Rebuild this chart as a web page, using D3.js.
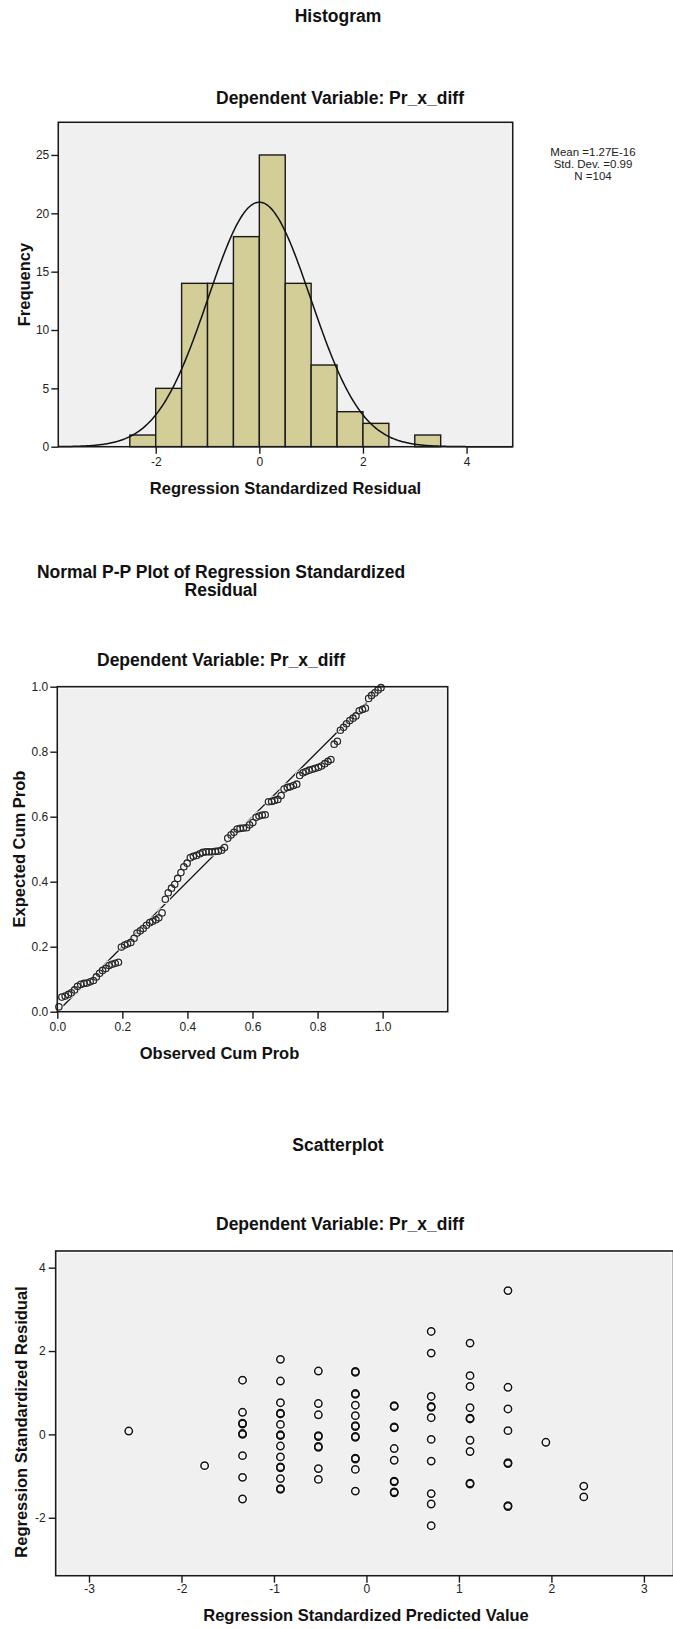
<!DOCTYPE html>
<html><head><meta charset="utf-8">
<script src="https://cdn.jsdelivr.net/npm/d3@7"></script>
<style>
html,body{margin:0;padding:0;background:#fff;}
svg{display:block;}
text{font-family:"Liberation Sans",Arial,sans-serif;}
</style></head><body>
<svg id="chart" width="673" height="1629"></svg>
<script>
// ---------- Histogram of regression standardized residuals ----------
const binLower  = [-2.5, -2.0, -1.5, -1.0, -0.5, 0.0, 0.5, 1.0, 1.5, 2.0, 2.5, 3.0];
const binWidth  = 0.5;
const frequency = [1, 5, 14, 14, 18, 25, 14, 7, 3, 2, 0, 1];
const residualMean = 1.27e-16;
const residualSd   = 0.99;
const residualN    = 104;
const statLabels   = ["Mean =1.27E-16", "Std. Dev. =0.99", "N =104"];
const histXTicks   = [-2, 0, 2, 4];
const histYTicks   = [0, 5, 10, 15, 20, 25];

// ---------- Normal P-P plot ----------
const observedCumProb = [
  0.005,0.014,0.024,0.034,0.043,0.053,0.062,0.072,0.082,0.091,
  0.101,0.111,0.120,0.130,0.139,0.149,0.159,0.168,0.178,0.188,
  0.197,0.207,0.216,0.226,0.236,0.245,0.255,0.264,0.274,0.284,
  0.293,0.303,0.312,0.322,0.332,0.341,0.351,0.361,0.370,0.380,
  0.389,0.399,0.409,0.418,0.428,0.438,0.447,0.457,0.466,0.476,
  0.486,0.495,0.505,0.514,0.524,0.534,0.543,0.553,0.562,0.572,
  0.582,0.591,0.601,0.611,0.620,0.630,0.639,0.649,0.659,0.668,
  0.678,0.688,0.697,0.707,0.716,0.726,0.736,0.745,0.755,0.764,
  0.774,0.784,0.793,0.803,0.812,0.822,0.832,0.841,0.851,0.861,
  0.870,0.880,0.889,0.899,0.909,0.918,0.928,0.938,0.947,0.957,
  0.966,0.976,0.986,0.995];
const expectedCumProb = [
  0.015,0.045,0.048,0.053,0.058,0.067,0.078,0.084,0.087,0.088,
  0.092,0.096,0.107,0.118,0.127,0.133,0.142,0.146,0.149,0.152,
  0.199,0.205,0.209,0.213,0.226,0.242,0.249,0.256,0.266,0.274,
  0.278,0.283,0.289,0.304,0.346,0.366,0.380,0.392,0.410,0.428,
  0.446,0.457,0.474,0.478,0.481,0.486,0.490,0.492,0.492,0.492,
  0.493,0.494,0.497,0.505,0.534,0.544,0.552,0.562,0.564,0.565,
  0.566,0.575,0.582,0.598,0.602,0.605,0.606,0.646,0.647,0.650,
  0.653,0.665,0.685,0.690,0.692,0.696,0.700,0.727,0.735,0.739,
  0.743,0.746,0.749,0.752,0.756,0.763,0.770,0.776,0.823,0.832,
  0.866,0.875,0.886,0.896,0.903,0.910,0.926,0.930,0.934,0.964,
  0.973,0.981,0.990,0.997];
const ppTicks = [0, 0.2, 0.4, 0.6, 0.8, 1.0];

// ---------- Residuals vs predicted values ----------
const predictedLevels = [-2.57, -1.75, -1.34, -0.93, -0.52, -0.12, 0.30, 0.70, 1.12, 1.53, 1.94, 2.35];
const residualsAtLevel = [
  [0.08],
  [-0.75],
  [1.30, 0.53, 0.27, 0.25, 0.02, 0.00, -0.51, -1.03, -1.55],
  [1.80, 1.28, 0.76, 0.51, 0.49, 0.24, -0.01, -0.03, -0.28, -0.54, -0.78, -0.80, -1.06, -1.30, -1.32],
  [1.52, 0.74, 0.47, -0.03, -0.05, -0.29, -0.31, -0.82, -1.08],
  [1.51, 1.49, 0.98, 0.96, 0.70, 0.45, 0.21, 0.19, -0.05, -0.07, -0.57, -0.59, -0.84, -1.36],
  [0.69, 0.67, 0.18, 0.16, -0.34, -0.62, -1.12, -1.14, -1.38, -1.40],
  [2.47, 1.95, 0.91, 0.67, 0.65, 0.40, -0.12, -0.64, -1.42, -1.67, -2.19],
  [2.19, 1.41, 1.15, 0.64, 0.39, 0.37, -0.14, -0.41, -1.17, -1.19],
  [3.45, 1.13, 0.61, 0.09, -0.68, -0.70, -1.71, -1.73],
  [-0.19],
  [-1.24, -1.50]
];
const scatterXTicks = [-3, -2, -1, 0, 1, 2, 3];
const scatterYTicks = [-2, 0, 2, 4];

// ---------- drawing ----------
const svg = d3.select("#chart");
svg.append("rect").attr("width", 673).attr("height", 1629).attr("fill", "#fff");

const INK = "#1a1a1a";

function title(txt, x, y, size) {
  svg.append("text").attr("x", x).attr("y", y).attr("text-anchor", "middle")
    .attr("font-size", size).attr("font-weight", "bold").attr("fill", "#111").text(txt);
}

function plotArea(x, y) {
  const [x0, x1] = x.range(), [yb, yt] = y.range();
  svg.append("rect").attr("x", x0).attr("y", yt).attr("width", x1 - x0).attr("height", yb - yt).attr("fill", "#fff");
  svg.append("rect").attr("x", x0 + 2).attr("y", yt + 2).attr("width", x1 - x0 - 4).attr("height", yb - yt - 4).attr("fill", "#f0f0f0");
}

function frame(x, y) {
  const [x0, x1] = x.range(), [yb, yt] = y.range();
  svg.append("rect").attr("x", x0).attr("y", yt).attr("width", x1 - x0).attr("height", yb - yt)
    .attr("fill", "none").attr("stroke", INK).attr("stroke-width", 1.6);
}

function axes(x, y, xTicks, yTicks, fmt, xPad, yPad) {
  const gx = svg.append("g").attr("transform", `translate(0,${y.range()[0]})`)
    .call(d3.axisBottom(x).tickValues(xTicks).tickSize(7).tickPadding(xPad).tickFormat(fmt));
  const gy = svg.append("g").attr("transform", `translate(${x.range()[0]},0)`)
    .call(d3.axisLeft(y).tickValues(yTicks).tickSize(7).tickPadding(yPad).tickFormat(fmt));
  [gx, gy].forEach(g => {
    g.select(".domain").remove();
    g.selectAll(".tick line").attr("stroke", INK).attr("stroke-width", 1.4);
    g.selectAll(".tick text").attr("font-size", 12).attr("fill", "#222")
      .attr("font-family", '"Liberation Sans",Arial,sans-serif');
  });
}

function axisTitleX(txt, x, y) {
  svg.append("text").attr("x", x).attr("y", y).attr("text-anchor", "middle")
    .attr("font-size", 16.5).attr("font-weight", "bold").attr("fill", "#111").text(txt);
}
function axisTitleY(txt, x, y) {
  svg.append("text").attr("transform", `translate(${x},${y}) rotate(-90)`).attr("text-anchor", "middle")
    .attr("font-size", 16.5).attr("font-weight", "bold").attr("fill", "#111").text(txt);
}

const numFmt = d => (d < 0 ? "-" : "") + Math.abs(d);

// ----- Histogram -----
{
  const x = d3.scaleLinear().domain([-3.88, 4.89]).range([58.3, 512.7]);
  const y = d3.scaleLinear().domain([0, 27.8]).range([446.7, 122.3]);

  title("Histogram", 338, 22, 17.5);
  title("Dependent Variable: Pr_x_diff", 340, 104, 17.5);

  plotArea(x, y);

  const bins = binLower.map((b, i) => ({ lo: b, hi: b + binWidth, n: frequency[i] })).filter(d => d.n > 0);
  svg.append("g").selectAll("rect").data(bins).join("rect")
    .attr("x", d => x(d.lo)).attr("width", d => x(d.hi) - x(d.lo))
    .attr("y", d => y(d.n)).attr("height", d => y(0) - y(d.n))
    .attr("fill", "#d3ce97").attr("stroke", INK).attr("stroke-width", 1.4);

  // fitted normal density scaled to counts per bin
  const pdf = v => Math.exp(-0.5 * ((v - residualMean) / residualSd) ** 2) / (residualSd * Math.sqrt(2 * Math.PI));
  const xs = d3.range(0, 401).map(i => x.domain()[0] + (x.domain()[1] - x.domain()[0]) * i / 400);
  svg.append("path").datum(xs)
    .attr("d", d3.line().x(v => x(v)).y(v => y(residualN * binWidth * pdf(v))))
    .attr("fill", "none").attr("stroke", "#111").attr("stroke-width", 1.5);

  frame(x, y);
  axes(x, y, histXTicks, histYTicks, numFmt, 4, 2);
  axisTitleX("Regression Standardized Residual", 285.5, 494);
  axisTitleY("Frequency", 30, 284.5);

  svg.append("g").selectAll("text").data(statLabels).join("text")
    .attr("x", 593).attr("y", (d, i) => 155.5 + i * 12)
    .attr("text-anchor", "middle").attr("font-size", 11.5).attr("fill", "#222").text(d => d);
}

// ----- Normal P-P plot -----
{
  const x = d3.scaleLinear().domain([0, 1.2]).range([57.3, 447.7]);
  const y = d3.scaleLinear().domain([0, 1]).range([1011.7, 686.7]);

  title("Normal P-P Plot of Regression Standardized", 221, 578, 17.5);
  title("Residual", 221, 595.5, 17.5);
  title("Dependent Variable: Pr_x_diff", 221, 666, 17.5);

  plotArea(x, y);

  svg.append("line").attr("x1", x(0)).attr("y1", y(0)).attr("x2", x(1)).attr("y2", y(1))
    .attr("stroke", "#111").attr("stroke-width", 1.3);

  const pts = observedCumProb.map((o, i) => [o, expectedCumProb[i]]);
  svg.append("g").selectAll("circle").data(pts).join("circle")
    .attr("cx", d => x(d[0])).attr("cy", d => y(d[1])).attr("r", 3.2)
    .attr("fill", "none").attr("stroke", "#fff").attr("stroke-width", 3);
  svg.append("g").selectAll("circle").data(pts).join("circle")
    .attr("cx", d => x(d[0])).attr("cy", d => y(d[1])).attr("r", 3.2)
    .attr("fill", "none").attr("stroke", "#2a2a2a").attr("stroke-width", 1.3);

  frame(x, y);
  axes(x, y, ppTicks, ppTicks, d3.format(".1f"), 4, 2);
  axisTitleX("Observed Cum Prob", 219.5, 1059);
  axisTitleY("Expected Cum Prob", 25, 849);
}

// ----- Scatterplot -----
{
  const x = d3.scaleLinear().domain([-3.36, 3.32]).range([55.7, 673.5]);
  const y = d3.scaleLinear().domain([-3.39, 4.40]).range([1575.7, 1251]);

  title("Scatterplot", 338, 1151, 17.5);
  title("Dependent Variable: Pr_x_diff", 340, 1230, 17.5);

  plotArea(x, y);

  const pts = predictedLevels.flatMap((p, i) => residualsAtLevel[i].map(r => [p, r]));
  svg.append("g").selectAll("circle").data(pts).join("circle")
    .attr("cx", d => x(d[0])).attr("cy", d => y(d[1])).attr("r", 3.7)
    .attr("fill", "#f0f0f0").attr("stroke", "#fff").attr("stroke-width", 3.2);
  svg.append("g").selectAll("circle").data(pts).join("circle")
    .attr("cx", d => x(d[0])).attr("cy", d => y(d[1])).attr("r", 3.7)
    .attr("fill", "none").attr("stroke", "#111").attr("stroke-width", 1.5);

  frame(x, y);
  axes(x, y, scatterXTicks, scatterYTicks, numFmt, 2, 3);
  axisTitleX("Regression Standardized Predicted Value", 366, 1621);
  axisTitleY("Regression Standardized Residual", 27, 1422);
}
</script>
</body></html>
